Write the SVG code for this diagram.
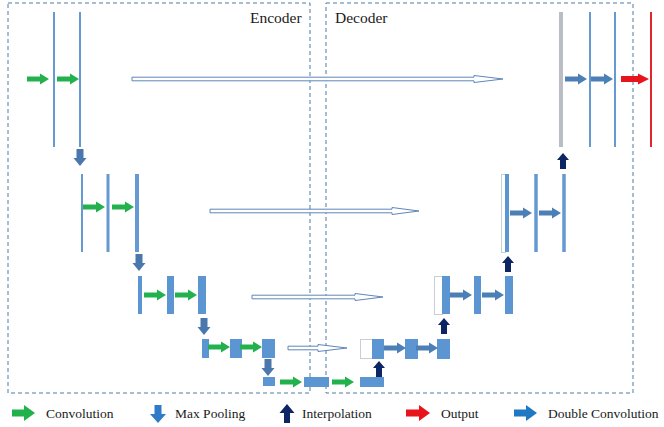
<svg xmlns="http://www.w3.org/2000/svg" width="664" height="427" viewBox="0 0 664 427">
<style>
.box{fill:none;stroke:#4f7ba3;stroke-width:1;stroke-dasharray:4 3}
.ln{stroke:#6499d2;stroke-width:2}
.blk{fill:#5b96d2}
.wht{fill:#fff;stroke:#c9cdd4;stroke-width:1}
.conv{fill:#22b14c}
.pool{fill:#4a78ad}
.interp{fill:#0d2563}
.dbl{fill:#4c7fb6}
.out{fill:#e8141c}
.skip{fill:#fff;stroke:#5f86b8;stroke-width:1}
</style>
<defs>
<path id="aR" d="M0 -2.5 H13 V-5.5 L22 0 L13 5.5 V2.5 H0 Z"/>
<path id="aD" d="M-3.5 0 V9 H-6.5 L0 17 L6.5 9 H3.5 V0 Z"/>
<path id="aU" d="M-3 16 V7 H-6 L0 0 L6 7 H3 V16 Z"/>
</defs>

<g id="frames">
<rect class="box" x="8" y="3" width="302" height="390"/>
<rect class="box" x="326" y="3" width="307" height="390"/>
<text x="250" y="23" font-family="'Liberation Serif', serif" font-size="15.5" fill="#1a1a1a">Encoder</text>
<text x="335" y="23" font-family="'Liberation Serif', serif" font-size="15.5" fill="#1a1a1a">Decoder</text>
</g>

<g id="enc1">
<line class="ln" x1="54" y1="12" x2="54" y2="147"/>
<line class="ln" x1="80" y1="12" x2="80" y2="147"/>
</g>
<g id="enc2">
<line class="ln" x1="82" y1="174" x2="82" y2="252"/>
<line class="ln" x1="108" y1="174" x2="108" y2="252" style="stroke-width:3"/>
<line class="ln" x1="137" y1="174" x2="137" y2="252" style="stroke-width:4"/>
</g>
<g id="enc3">
<rect class="blk" x="138" y="276" width="4" height="38"/>
<rect class="blk" x="167" y="276" width="7" height="38"/>
<rect class="blk" x="198" y="276" width="8" height="38"/>
</g>
<g id="enc4">
<rect class="blk" x="202" y="339" width="7" height="19"/>
<rect class="blk" x="230" y="339" width="12" height="19"/>
<rect class="blk" x="262" y="339" width="13" height="19"/>
</g>
<g id="bottleneck">
<rect class="blk" x="263" y="377" width="12" height="9"/>
<rect class="blk" x="304" y="377" width="25" height="10"/>
<rect class="blk" x="360" y="377" width="24" height="10"/>
</g>
<g id="dec4">
<rect class="wht" x="360.5" y="339.5" width="12" height="19"/>
<rect class="blk" x="372" y="339" width="12" height="20"/>
<rect class="blk" x="405" y="339" width="13" height="20"/>
<rect class="blk" x="437" y="339" width="13" height="20"/>
</g>
<g id="dec3">
<rect class="wht" x="434.5" y="276.5" width="8" height="38"/>
<rect class="blk" x="442" y="276" width="8" height="38"/>
<rect class="blk" x="474" y="276" width="7" height="38"/>
<rect class="blk" x="505" y="276" width="8" height="38"/>
</g>
<g id="dec2">
<rect class="wht" x="501.5" y="174.5" width="4" height="78"/>
<rect class="blk" x="505" y="174" width="4" height="78"/>
<line class="ln" x1="536" y1="174" x2="536" y2="252" style="stroke-width:3.5"/>
<line class="ln" x1="564" y1="174" x2="564" y2="252" style="stroke-width:3.5"/>
</g>
<g id="dec1">
<line x1="561" y1="12" x2="561" y2="147" style="stroke:#b9bdc6;stroke-width:4"/>
<line class="ln" x1="590" y1="12" x2="590" y2="147"/>
<line class="ln" x1="615" y1="12" x2="615" y2="147"/>
</g>
<g id="output">
<line x1="651" y1="12" x2="651" y2="147" style="stroke:#e3262b;stroke-width:2"/>
</g>

<g id="connectors">
<path class="skip" d="M132 77.2 H474 V75.5 L503 79 L474 82.5 V80.8 H132 Z"/>
<path class="skip" d="M210 209.2 H392 V207.5 L419 211 L392 214.5 V212.8 H210 Z"/>
<path class="skip" d="M252 295.2 H355 V293.5 L383 297 L355 300.5 V298.8 H252 Z"/>
<path class="skip" d="M288 346.2 H318 V344.5 L347 348 L318 351.5 V349.8 H288 Z"/>
<use href="#aR" class="conv" x="27" y="79"/>
<use href="#aR" class="conv" x="57" y="79"/>
<use href="#aR" class="conv" x="83" y="207"/>
<use href="#aR" class="conv" x="112" y="207"/>
<use href="#aR" class="conv" x="144" y="295"/>
<use href="#aR" class="conv" x="175" y="295"/>
<use href="#aR" class="conv" x="208" y="347"/>
<use href="#aR" class="conv" x="240" y="347"/>
<use href="#aR" class="conv" x="280" y="382"/>
<use href="#aR" class="conv" x="332" y="382"/>
<use href="#aD" class="pool" x="80" y="149"/>
<use href="#aD" class="pool" x="139" y="254"/>
<use href="#aD" class="pool" x="204" y="318"/>
<use href="#aD" class="pool" x="268" y="359"/>
<use href="#aU" class="interp" x="379" y="361"/>
<use href="#aU" class="interp" x="444" y="318"/>
<use href="#aU" class="interp" x="508" y="256"/>
<use href="#aU" class="interp" x="563" y="153"/>
<use href="#aR" class="dbl" x="384" y="348"/>
<use href="#aR" class="dbl" x="416" y="348"/>
<use href="#aR" class="dbl" x="450" y="295"/>
<use href="#aR" class="dbl" x="482" y="295"/>
<use href="#aR" class="dbl" x="510" y="213"/>
<use href="#aR" class="dbl" x="539" y="213"/>
<use href="#aR" class="dbl" x="565" y="79"/>
<use href="#aR" class="dbl" x="591" y="79"/>
<path class="out" d="M621 76 H638 V73.5 L649 79 L638 84.5 V82 H621 Z"/>
</g>

<g id="legend">
<path class="conv" d="M12 409.5 H24 V405 L35 413 L24 421 V416.5 H12 Z"/>
<path d="M154.5 405 V414 H150 L158 423 L166 414 H161.5 V405 Z" style="fill:#2f7bc8"/>
<path class="interp" d="M284 423 V413 H279.5 L287 404 L294.5 413 H290 V423 Z"/>
<path class="out" d="M406 409.5 H419 V405 L430 413 L419 421 V416.5 H406 Z"/>
<path d="M514 409.5 H526 V405 L537 413 L526 421 V416.5 H514 Z" style="fill:#1f78c4"/>
<text x="46" y="418" font-family="'Liberation Serif', serif" font-size="13.5" fill="#1a1a1a">Convolution</text>
<text x="175" y="418" font-family="'Liberation Serif', serif" font-size="13.5" fill="#1a1a1a">Max Pooling</text>
<text x="302" y="418" font-family="'Liberation Serif', serif" font-size="13.5" fill="#1a1a1a">Interpolation</text>
<text x="441" y="418" font-family="'Liberation Serif', serif" font-size="13.5" fill="#1a1a1a">Output</text>
<text x="548" y="418" font-family="'Liberation Serif', serif" font-size="13.5" fill="#1a1a1a">Double Convolution</text>
</g>
</svg>
